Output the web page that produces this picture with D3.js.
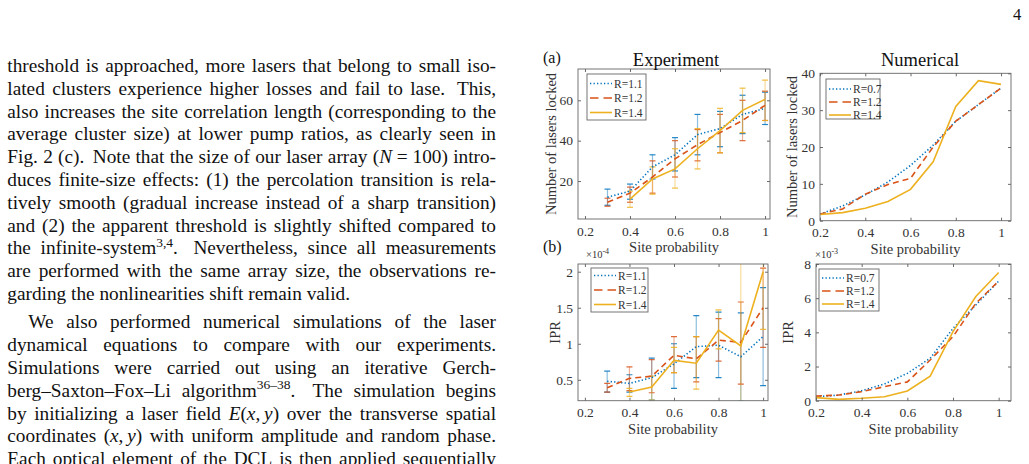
<!DOCTYPE html>
<html>
<head>
<meta charset="utf-8">
<script src="https://cdn.jsdelivr.net/npm/d3@7"></script>
<style>
  body { margin: 0; background: #fff; }
  svg { display: block; }
</style>
</head>
<body>
<svg id="page" width="1029" height="464"></svg>
<script>
// ---- data ----
const siteExp = [0.3, 0.4, 0.5, 0.6, 0.7, 0.8, 0.9, 1.0];
const siteExpR14 = [0.4, 0.5, 0.6, 0.7, 0.8, 0.9, 1.0];
const siteNum = [0.2, 0.3, 0.4, 0.5, 0.6, 0.7, 0.8, 0.9, 1.0];
const xTicks = [0.2, 0.4, 0.6, 0.8, 1];

// (a) experiment, number of lasers locked
const lockedExpR11 = [12, 15, 27, 33, 43, 46, 53, 56];
const lockedExpR11Lo = [8, 11, 21, 25, 33, 37, 43.5, 48];
const lockedExpR11Hi = [16, 18.5, 33, 41.5, 53, 54.5, 62.5, 64];
const lockedExpR12 = [9.5, 14, 22, 31, 38, 44, 50, 57.5];
const lockedExpR12Lo = [7.5, 9.5, 14, 22, 30, 34, 40, 50];
const lockedExpR12Hi = [11.5, 17, 30, 40, 45.5, 53, 60, 64.5];
const lockedExpR14 = [11, 21, 26, 36, 45, 55, 60.5];
const lockedExpR14Lo = [7, 13.5, 16.5, 26, 34, 44, 50];
const lockedExpR14Hi = [15, 27, 36, 46, 56, 66, 70];

// (a) numerical
const lockedNumR07 = [1.8, 4, 7, 10.5, 15, 20.5, 27, 31.5, 36];
const lockedNumR12 = [1.8, 3.2, 7.2, 9.8, 11.5, 20, 27, 31.5, 36];
const lockedNumR14 = [1.7, 2.2, 3.4, 5.2, 8.5, 16, 31, 38, 37];

// (b) experiment, IPR (x 1e-4)
const iprExpR11 = [0.48, 0.45, 0.53, 0.72, 0.96, 0.98, 0.82, 1.10];
const iprExpR11Lo = [0.33, 0.33, 0.22, 0.38, 0.53, 0.53, 0.20, 0.42];
const iprExpR11Hi = [0.62, 0.57, 0.80, 1.00, 1.39, 1.44, 1.43, 1.78];
const iprExpR12 = [0.39, 0.52, 0.55, 0.84, 0.79, 1.05, 1.02, 1.50];
const iprExpR12Lo = [0.33, 0.35, 0.32, 0.60, 0.47, 0.76, 0.44, 0.95];
const iprExpR12Hi = [0.45, 0.68, 0.78, 1.10, 1.10, 1.35, 1.58, 2.05];
const iprExpR14 = [0.33, 0.40, 0.77, 0.73, 1.19, 0.97, 2.00];
const iprExpR14Lo = [0.27, 0.22, 0.60, 0.37, 0.93, 0.00, 1.20];
const iprExpR14Hi = [0.38, 0.55, 0.95, 1.10, 1.47, 2.30, 2.30];

// (b) numerical, IPR (x 1e-3)
const iprNumR07 = [0.23, 0.33, 0.58, 0.98, 1.6, 2.48, 4.23, 5.6, 7.0];
const iprNumR12 = [0.27, 0.33, 0.53, 0.82, 1.1, 2.38, 3.75, 5.7, 7.0];
const iprNumR14 = [0.18, 0.08, 0.14, 0.23, 0.57, 1.44, 4.04, 6.1, 7.5];

// ---- page text (left column) ----
const textLines = [
  'threshold is approached, more lasers that belong to small iso-',
  'lated clusters experience higher losses and fail to lase. This,',
  'also increases the site correlation length (corresponding to the',
  'average cluster size) at lower pump ratios, as clearly seen in',
  'Fig. 2 (c). Note that the size of our laser array (_N_\u00a0=\u00a0100) intro-',
  'duces finite-size effects: (1) the percolation transition is rela-',
  'tively smooth (gradual increase instead of a sharp transition)',
  'and (2) the apparent threshold is slightly shifted compared to',
  'the infinite-system^3,4^. Nevertheless, since all measurements',
  'are performed with the same array size, the observations re-',
  'garding the nonlinearities shift remain valid.',
  'We also performed numerical simulations of the laser',
  'dynamical equations to compare with our experiments.',
  'Simulations were carried out using an iterative Gerch-',
  'berg\u2013Saxton\u2013Fox\u2013Li algorithm^36\u201338^. The simulation begins',
  'by initializing a laser field _E_(_x_,\u2009_y_) over the transverse spatial',
  'coordinates (_x_,\u2009_y_) with uniform amplitude and random phase.',
  'Each optical element of the DCL is then applied sequentially'
];
const paraEnd = 10;    // last line of the first paragraph
const paraIndent = 21;

const blue = '#0072bd', orange = '#d95319', yellow = '#edb120';
const dotted = '1.3,2.2', dashed = '6,4';
const serif = '"Liberation Serif", "Times New Roman", serif';

const svg = d3.select('#page');

// ---------- left column text, justified ----------
const bodySize = 19.3;

function runsOf(word) {
  return word.split(/(_[^_]+_|\^[^^]+\^)/).filter(s => s.length).map(s => {
    if (s[0] === '_' && s.length > 2) return { t: s.slice(1, -1), it: true };
    if (s[0] === '^' && s.length > 2) return { t: s.slice(1, -1), sup: true };
    return { t: s };
  });
}

function drawWord(g, word, y) {
  const t = g.append('text').attr('y', y);
  let raised = false;
  runsOf(word).forEach(r => {
    const s = t.append('tspan').text(r.t);
    if (r.it) s.attr('font-style', 'italic');
    if (r.sup) {
      s.attr('font-size', bodySize * 0.7).attr('dy', -7.5);
      raised = true;
    } else if (raised) {
      s.attr('dy', 7.5);
      raised = false;
    }
  });
  return t;
}

const textG = svg.append('g')
  .attr('font-family', serif)
  .attr('font-size', bodySize)
  .attr('fill', '#111');

const textLeft = 7.3, textRight = 496, firstBase = 72, lineStep = 22.8, paraSkip = 5.5;

textLines.forEach(function (line, i) {
  const y = firstBase + i * lineStep + (i > paraEnd ? paraSkip : 0);
  const left = textLeft + (i === paraEnd + 1 ? paraIndent : 0);
  const words = line.split(' ');
  const nodes = words.map(w => drawWord(textG, w, y));
  const widths = nodes.map(n => n.node().getComputedTextLength());

  // sentence ends get a bit more room, as TeX does
  const weights = words.slice(0, -1).map((w, k) => {
    const next = words[k + 1];
    return (/[.]\)?$/.test(w) && w !== 'Fig.' && /^[A-Z]/.test(next)) ? 1.6 : 1;
  });

  let gap;
  if (i === paraEnd) {
    gap = weights.map(wt => bodySize * 0.25 * wt);
  } else {
    const free = textRight - left - d3.sum(widths);
    const unit = free / d3.sum(weights);
    gap = weights.map(wt => unit * wt);
  }

  let x = left;
  nodes.forEach((n, k) => {
    n.attr('x', x);
    x += widths[k] + (k < gap.length ? gap[k] : 0);
  });
});

// page number
svg.append('text')
  .attr('x', 1013).attr('y', 19.5)
  .attr('font-family', serif).attr('font-size', 16.6)
  .attr('fill', '#111')
  .text('4');

// ---------- figure panels ----------
function drawPanel(p) {
  const g = svg.append('g');
  const x = d3.scaleLinear().domain(p.xDomain).range([p.left, p.right]);
  const y = d3.scaleLinear().domain(p.yDomain).range([p.bottom, p.top]);

  const clipId = 'clip-' + p.id;
  g.append('clipPath').attr('id', clipId)
    .append('rect')
    .attr('x', p.left).attr('y', p.top)
    .attr('width', p.right - p.left).attr('height', p.bottom - p.top);

  const plot = g.append('g').attr('clip-path', 'url(#' + clipId + ')');

  // error bars first, lines on top
  p.series.forEach(function (s) {
    if (!s.lo) return;
    const eb = plot.append('g').attr('stroke', s.color).attr('stroke-width', 1.2);
    s.xs.forEach(function (xv, k) {
      eb.append('line')
        .attr('x1', x(xv)).attr('x2', x(xv))
        .attr('y1', y(s.lo[k])).attr('y2', y(s.hi[k]))
        .attr('stroke-opacity', 0.45);
      [s.lo[k], s.hi[k]].forEach(function (v) {
        eb.append('line')
          .attr('x1', x(xv) - 3).attr('x2', x(xv) + 3)
          .attr('y1', y(v)).attr('y2', y(v))
          .attr('stroke-opacity', 0.85);
      });
    });
  });

  const line = d3.line().x(d => x(d[0])).y(d => y(d[1]));
  p.series.forEach(function (s) {
    plot.append('path')
      .datum(d3.zip(s.xs, s.ys))
      .attr('d', line)
      .attr('fill', 'none')
      .attr('stroke', s.color)
      .attr('stroke-width', 1.6)
      .attr('stroke-dasharray', s.dash || null);
  });

  // axes: inward ticks on all sides
  const tickFont = function (sel) {
    sel.select('.domain').remove();
    sel.selectAll('line').attr('stroke', '#444').attr('stroke-width', 0.8);
    sel.selectAll('text')
      .attr('font-family', serif).attr('font-size', 13.5).attr('fill', '#333');
  };

  g.append('g')
    .attr('transform', 'translate(0,' + p.bottom + ')')
    .call(d3.axisBottom(x).tickValues(xTicks).tickFormat(d3.format('~g'))
      .tickSizeInner(-3).tickSizeOuter(0).tickPadding(7))
    .call(tickFont);
  g.append('g')
    .attr('transform', 'translate(0,' + p.top + ')')
    .call(d3.axisTop(x).tickValues(xTicks).tickFormat('')
      .tickSizeInner(-3).tickSizeOuter(0))
    .call(tickFont);
  g.append('g')
    .attr('transform', 'translate(' + p.left + ',0)')
    .call(d3.axisLeft(y).tickValues(p.yTicks).tickFormat(d3.format('~g'))
      .tickSizeInner(-3).tickSizeOuter(0).tickPadding(5))
    .call(tickFont);
  g.append('g')
    .attr('transform', 'translate(' + p.right + ',0)')
    .call(d3.axisRight(y).tickValues(p.yTicks).tickFormat('')
      .tickSizeInner(-3).tickSizeOuter(0))
    .call(tickFont);

  g.append('rect')
    .attr('x', p.left).attr('y', p.top)
    .attr('width', p.right - p.left).attr('height', p.bottom - p.top)
    .attr('fill', 'none').attr('stroke', '#666').attr('stroke-width', 0.9);

  // labels
  const lab = g.append('g').attr('font-family', serif).attr('fill', '#333');
  lab.append('text')
    .attr('x', (p.left + p.right) / 2).attr('y', p.bottom + 33)
    .attr('text-anchor', 'middle').attr('font-size', 14.5)
    .text('Site probability');
  lab.append('text')
    .attr('transform', 'translate(' + p.yLabelX + ',' + (p.top + p.bottom) / 2 + ') rotate(-90)')
    .attr('text-anchor', 'middle').attr('font-size', 14.5)
    .text(p.yLabel);
  if (p.title) {
    lab.append('text')
      .attr('x', p.titleX).attr('y', 66)
      .attr('text-anchor', 'middle').attr('font-size', 18.5).attr('fill', '#111')
      .text(p.title);
  }
  if (p.exponent) {
    const ex = lab.append('text')
      .attr('x', p.left + p.exponentDx).attr('y', p.top - 6)
      .attr('font-size', 10.5);
    ex.append('tspan').text('\u00d710');
    ex.append('tspan').attr('font-size', 8).attr('dy', -4).text(p.exponent);
  }

  // legend
  const L = p.legend;
  const lg = g.append('g');
  lg.append('rect')
    .attr('x', L.x).attr('y', L.y).attr('width', L.w).attr('height', L.h)
    .attr('fill', '#fff').attr('stroke', '#666').attr('stroke-width', 0.9);
  p.series.forEach(function (s, i) {
    const yy = L.row0 + i * L.step;
    lg.append('line')
      .attr('x1', L.x + 3).attr('x2', L.x + 25)
      .attr('y1', yy).attr('y2', yy)
      .attr('stroke', s.color).attr('stroke-width', 1.6)
      .attr('stroke-dasharray', s.dash === dashed ? '8.5,5' : (s.dash || null));
    lg.append('text')
      .attr('x', L.x + 27).attr('y', yy + 4)
      .attr('font-family', serif).attr('font-size', 11.5).attr('fill', '#333')
      .text(s.name);
  });
}

drawPanel({
  id: 'a-exp', left: 578, right: 770, top: 69, bottom: 219,
  xDomain: [0.169, 1.022], yDomain: [1.2, 75.5], yTicks: [20, 40, 60],
  yLabel: 'Number of lasers locked', yLabelX: 556,
  title: 'Experiment', titleX: 676,
  legend: { x: 587, y: 74, w: 59, h: 46, row0: 83.5, step: 14.5 },
  series: [
    { name: 'R=1.1', xs: siteExp, ys: lockedExpR11, lo: lockedExpR11Lo, hi: lockedExpR11Hi, color: blue, dash: dotted },
    { name: 'R=1.2', xs: siteExp, ys: lockedExpR12, lo: lockedExpR12Lo, hi: lockedExpR12Hi, color: orange, dash: dashed },
    { name: 'R=1.4', xs: siteExpR14, ys: lockedExpR14, lo: lockedExpR14Lo, hi: lockedExpR14Hi, color: yellow }
  ]
});

drawPanel({
  id: 'a-num', left: 820, right: 1011, top: 73.3, bottom: 220.7,
  xDomain: [0.2, 1.044], yDomain: [0, 40], yTicks: [0, 10, 20, 30, 40],
  yLabel: 'Number of lasers locked', yLabelX: 797,
  title: 'Numerical', titleX: 920,
  legend: { x: 826, y: 79, w: 54, h: 40, row0: 89, step: 13 },
  series: [
    { name: 'R=0.7', xs: siteNum, ys: lockedNumR07, color: blue, dash: dotted },
    { name: 'R=1.2', xs: siteNum, ys: lockedNumR12, color: orange, dash: dashed },
    { name: 'R=1.4', xs: siteNum, ys: lockedNumR14, color: yellow }
  ]
});

drawPanel({
  id: 'b-exp', left: 578, right: 768, top: 264, bottom: 400.7,
  xDomain: [0.169, 1.022], yDomain: [0.21, 2.107], yTicks: [0.5, 1, 1.5, 2],
  yLabel: 'IPR', yLabelX: 560, exponent: '-4', exponentDx: 8,
  legend: { x: 591, y: 268, w: 57, h: 44, row0: 275.5, step: 14.5 },
  series: [
    { name: 'R=1.1', xs: siteExp, ys: iprExpR11, lo: iprExpR11Lo, hi: iprExpR11Hi, color: blue, dash: dotted },
    { name: 'R=1.2', xs: siteExp, ys: iprExpR12, lo: iprExpR12Lo, hi: iprExpR12Hi, color: orange, dash: dashed },
    { name: 'R=1.4', xs: siteExpR14, ys: iprExpR14, lo: iprExpR14Lo, hi: iprExpR14Hi, color: yellow }
  ]
});

drawPanel({
  id: 'b-num', left: 816, right: 1011, top: 264, bottom: 400.7,
  xDomain: [0.2, 1.054], yDomain: [0, 8], yTicks: [0, 2, 4, 6, 8],
  yLabel: 'IPR', yLabelX: 793, exponent: '-3', exponentDx: -1,
  legend: { x: 819, y: 269, w: 60, h: 42, row0: 278, step: 13 },
  series: [
    { name: 'R=0.7', xs: siteNum, ys: iprNumR07, color: blue, dash: dotted },
    { name: 'R=1.2', xs: siteNum, ys: iprNumR12, color: orange, dash: dashed },
    { name: 'R=1.4', xs: siteNum, ys: iprNumR14, color: yellow }
  ]
});

// panel letters
svg.append('g').attr('font-family', serif).attr('font-size', 16).attr('fill', '#111')
  .selectAll('text')
  .data([{ t: '(a)', y: 63 }, { t: '(b)', y: 252 }])
  .join('text')
  .attr('x', 543).attr('y', d => d.y)
  .text(d => d.t);
</script>
</body>
</html>
